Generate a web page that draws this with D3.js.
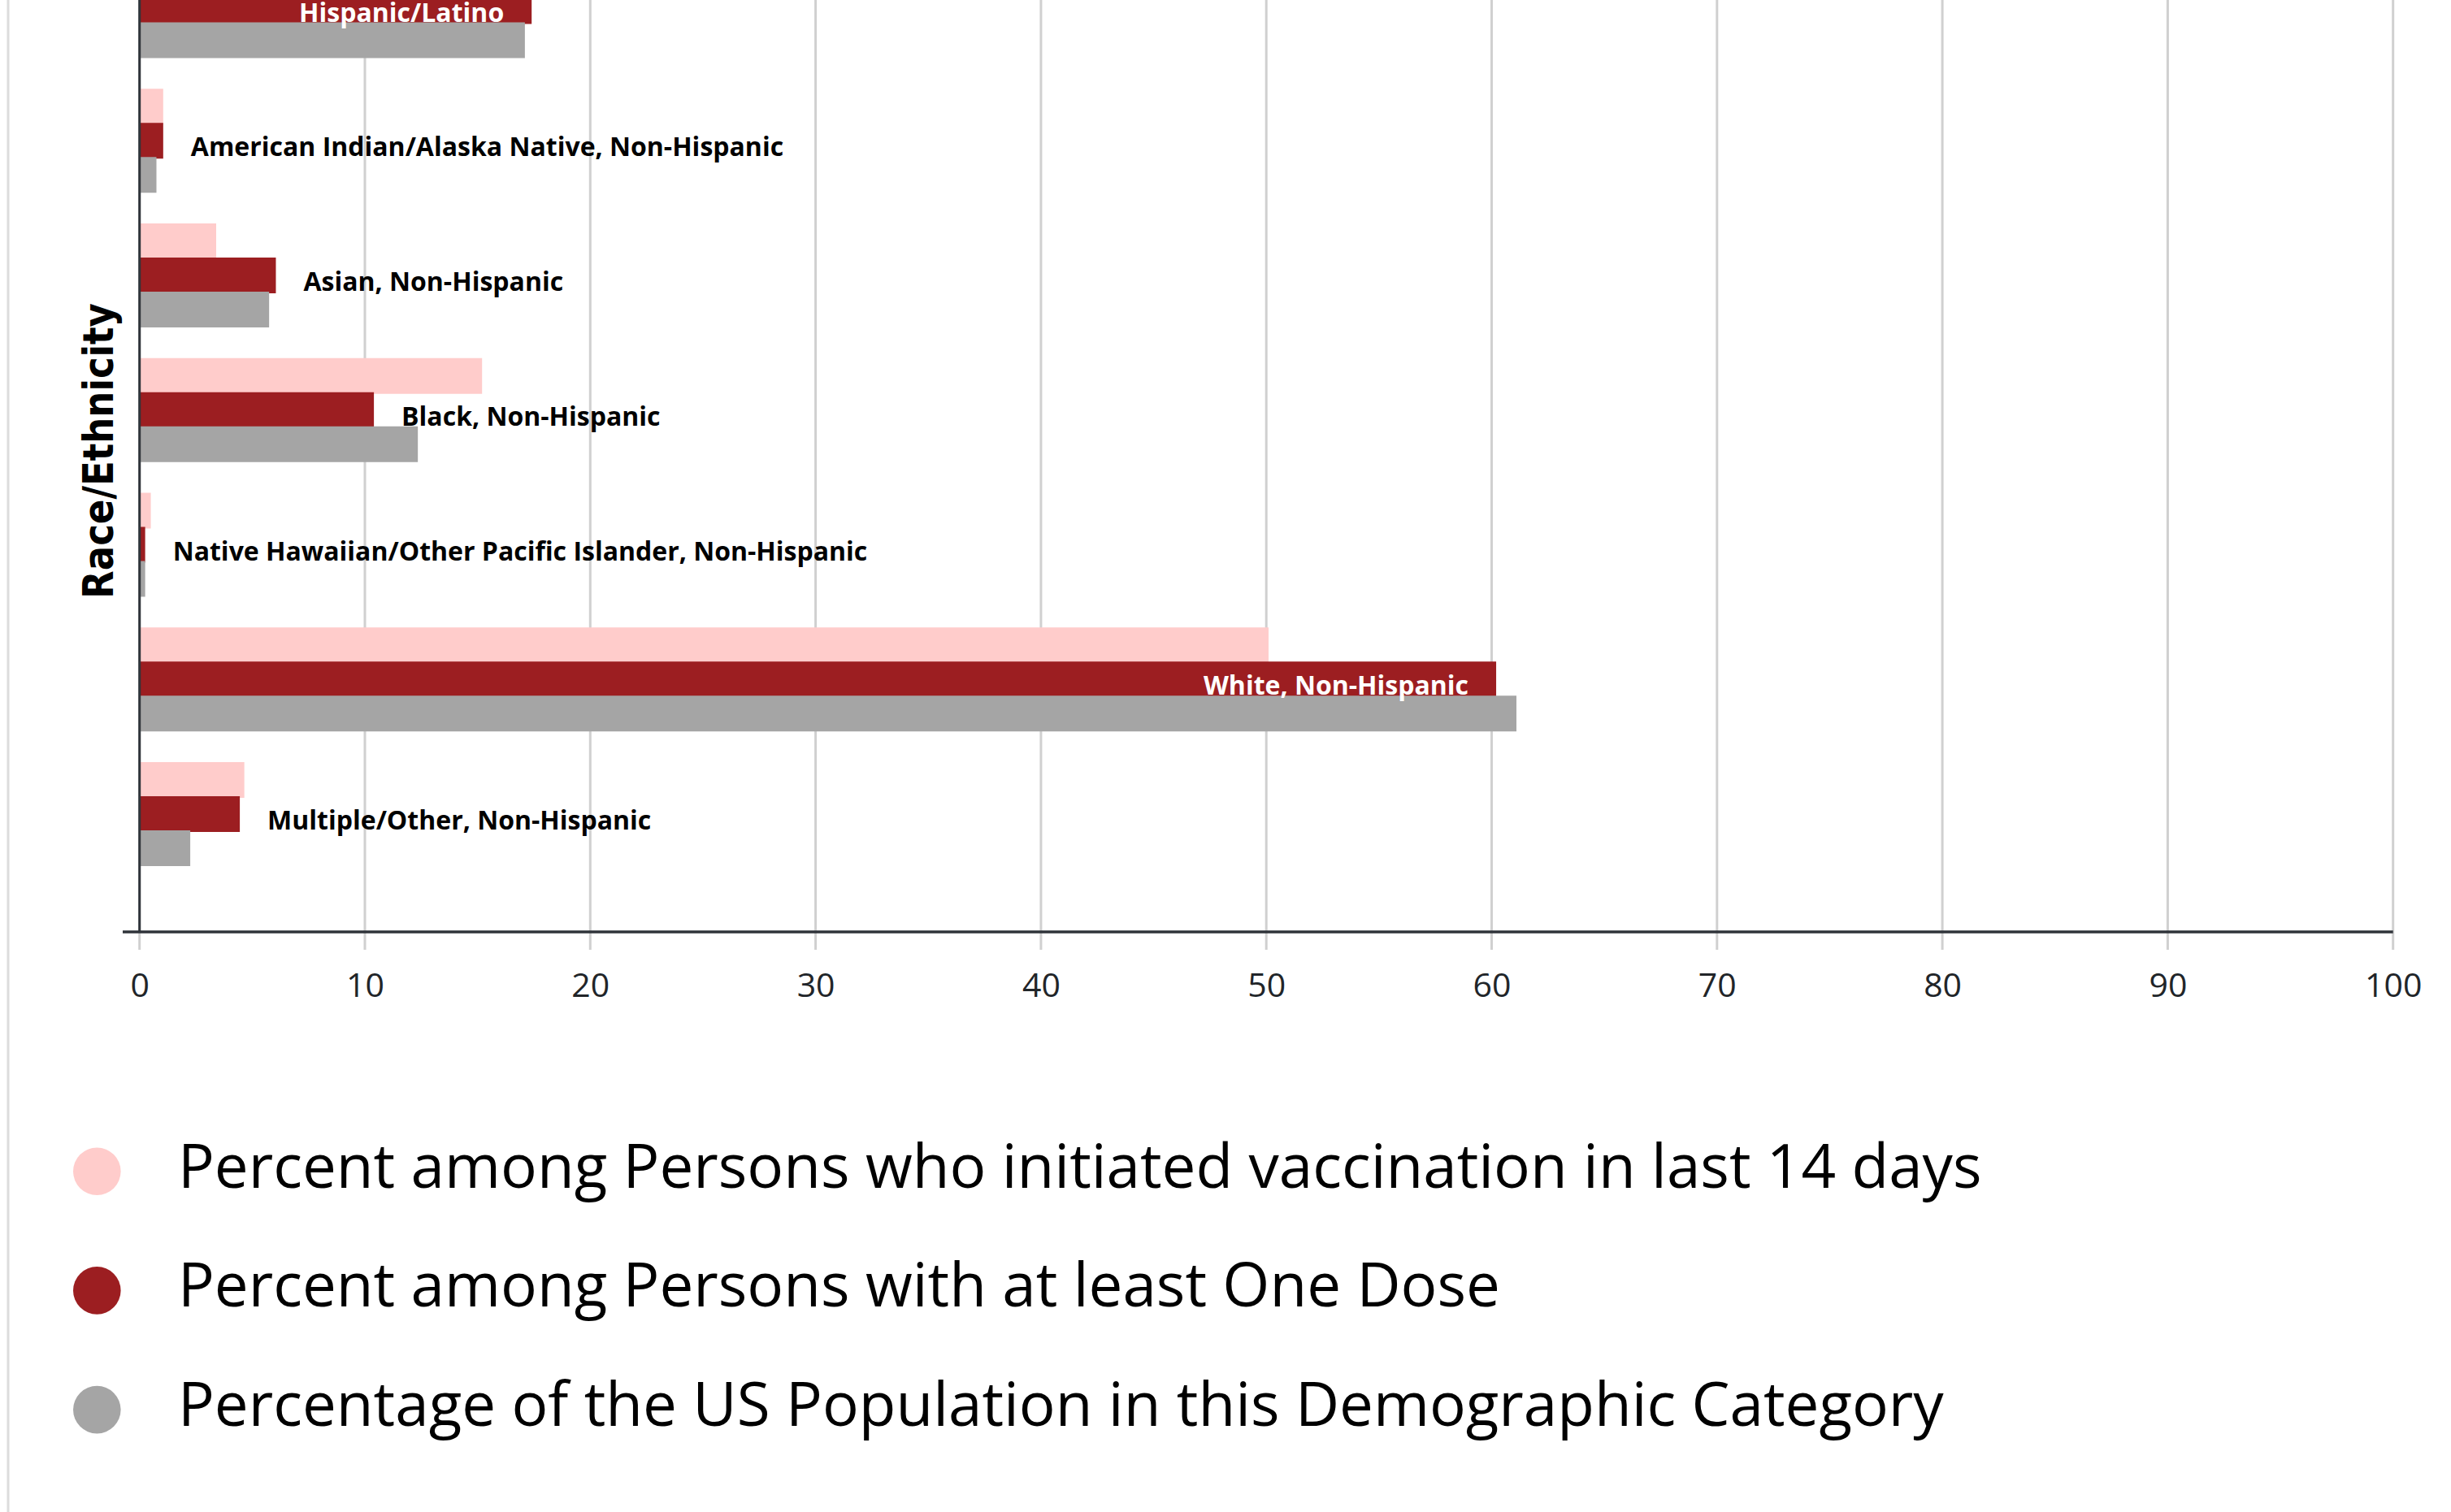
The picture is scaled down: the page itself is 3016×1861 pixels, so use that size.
<!DOCTYPE html>
<html>
<head>
<meta charset="utf-8">
<script src="https://cdn.jsdelivr.net/npm/d3@7"></script>
<style>
  html, body { margin: 0; padding: 0; background: #fff; }
  svg { display: block; }
</style>
</head>
<body>
<svg id="chart" width="3016" height="1861"></svg>
<script>
// ---- Data ----
const categories = [
  "Hispanic/Latino",
  "American Indian/Alaska Native, Non-Hispanic",
  "Asian, Non-Hispanic",
  "Black, Non-Hispanic",
  "Native Hawaiian/Other Pacific Islander, Non-Hispanic",
  "White, Non-Hispanic",
  "Multiple/Other, Non-Hispanic"
];
const seriesNames = [
  "Percent among Persons who initiated vaccination in last 14 days",
  "Percent among Persons with at least One Dose",
  "Percentage of the US Population in this Demographic Category"
];
const initiated14 = [23.0, 1.05, 3.4, 15.2, 0.5, 50.1, 4.65];
const atLeastOne  = [17.4, 1.05, 6.05, 10.4, 0.25, 60.2, 4.45];
const usPopulation = [17.1, 0.75, 5.75, 12.35, 0.25, 61.1, 2.25];
const seriesValues = [initiated14, atLeastOne, usPopulation];
const seriesColors = ["#ffcccb", "#9c1e21", "#a5a5a5"];
const xTicks = [0, 10, 20, 30, 40, 50, 60, 70, 80, 90, 100];
const yTitle = "Race/Ethnicity";

// ---- Layout ----
const svg = d3.select("#chart");
const x = d3.scaleLinear().domain([0, 100]).range([171.7, 2944.7]);
const step = 165.75;
const y = d3.scaleBand().domain(categories)
  .range([7.5 - step / 2, 7.5 - step / 2 + step * categories.length])
  .paddingInner(0).paddingOuter(0);
const sub = d3.scalePoint().domain(d3.range(seriesNames.length)).range([-42, 42]);
const barH = 44;
const axisY = 1147;

// card border
svg.append("line").attr("x1", 10).attr("x2", 10).attr("y1", 0).attr("y2", 1861)
  .attr("stroke", "#dcdcdc").attr("stroke-width", 3);

// gridlines + ticks
const xAxis = d3.axisBottom(x).tickValues(xTicks).tickSize(0).tickFormat(d => d);
svg.append("g").selectAll("line.grid").data(xTicks).join("line")
  .attr("class", "grid")
  .attr("x1", d => x(d)).attr("x2", d => x(d))
  .attr("y1", 0).attr("y2", axisY + 22)
  .attr("stroke", "#d0d0d0").attr("stroke-width", 3);

// bars
const groups = svg.append("g").selectAll("g.cat").data(categories).join("g")
  .attr("class", "cat");
seriesValues.forEach((vals, si) => {
  groups.append("rect")
    .attr("x", x(0))
    .attr("y", (d, i) => y(d) + y.bandwidth() / 2 + sub(si) - barH / 2)
    .attr("width", (d, i) => x(vals[i]) - x(0))
    .attr("height", barH)
    .attr("fill", seriesColors[si]);
});

// y axis line
svg.append("line").attr("x1", x(0)).attr("x2", x(0)).attr("y1", 0).attr("y2", axisY)
  .attr("stroke", "#2f343a").attr("stroke-width", 3);

// x axis
const gx = svg.append("g").attr("transform", `translate(0,${axisY})`).call(xAxis);
gx.select(".domain").remove();
gx.selectAll("text")
  .attr("y", 80).attr("dy", 0)
  .attr("font-family", "'Open Sans', sans-serif")
  .attr("font-size", 41)
  .attr("fill", "#212529");
svg.append("line").attr("x1", 151).attr("x2", x(100)).attr("y1", axisY).attr("y2", axisY)
  .attr("stroke", "#2f343a").attr("stroke-width", 3.5);

// data labels on middle series
const labels = svg.append("g").selectAll("text.lbl").data(categories).join("text")
  .attr("class", "lbl")
  .attr("font-family", "'Open Sans', sans-serif")
  .attr("font-weight", 700)
  .attr("font-size", 32)
  .attr("y", d => y(d) + y.bandwidth() / 2 + 19)
  .text(d => d);
labels.each(function(d, i) {
  const t = d3.select(this);
  const w = this.getComputedTextLength();
  const barEnd = x(atLeastOne[i]);
  const barW = barEnd - x(0);
  if (barW > w + 68) {
    t.attr("x", barEnd - 34).attr("text-anchor", "end").attr("fill", "#ffffff");
  } else {
    t.attr("x", barEnd + 34).attr("text-anchor", "start").attr("fill", "#000000");
  }
});

// y title
svg.append("text")
  .attr("transform", "translate(139,555) rotate(-90)")
  .attr("text-anchor", "middle")
  .attr("font-family", "'DejaVu Sans', sans-serif")
  .attr("font-weight", 700)
  .attr("font-size", 51)
  .attr("textLength", 364)
  .attr("lengthAdjust", "spacingAndGlyphs")
  .attr("fill", "#000")
  .text(yTitle);

// legend
const legend = svg.append("g").selectAll("g.leg").data(seriesNames).join("g")
  .attr("class", "leg")
  .attr("transform", (d, i) => `translate(0,${1441.7 + i * 146.7})`);
legend.append("circle").attr("cx", 119.3).attr("cy", 0).attr("r", 29.3)
  .attr("fill", (d, i) => seriesColors[i]);
legend.append("text").attr("x", 219).attr("y", 20)
  .attr("font-family", "'Open Sans', sans-serif")
  .attr("font-size", 74.6)
  .attr("fill", "#000")
  .text(d => d);
</script>
</body>
</html>
